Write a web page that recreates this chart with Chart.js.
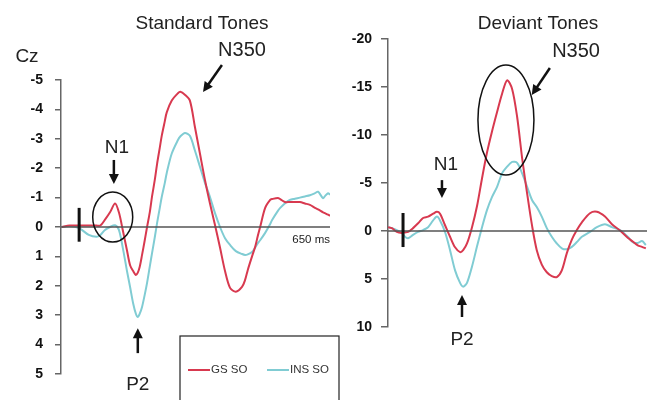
<!DOCTYPE html>
<html>
<head>
<meta charset="utf-8">
<script src="https://cdn.jsdelivr.net/npm/chart.js@4.4.1/dist/chart.umd.min.js"></script>
<style>
  html, body { margin: 0; padding: 0; background: #fff; }
  #wrap { position: relative; width: 647px; height: 400px; overflow: hidden; }
  canvas { position: absolute; top: 0; }
</style>
</head>
<body>
<div id="wrap">
  <canvas id="std" width="345" height="400" style="left:0"></canvas>
  <canvas id="dev" width="307" height="400" style="left:340px"></canvas>
</div>
<script>
// Standard tones (Cz), time in ms, amplitude in microvolts (negative up)
const stdTime = [-45, -25, 0, 25, 45, 55, 67, 80, 93, 103, 113, 124, 132, 140, 147, 152, 157, 163, 170, 176,
  183, 189, 196, 202, 209, 214, 222, 227, 240, 256, 262, 274, 287, 300, 313, 326, 339, 352, 365, 378,
  391, 406, 422, 430, 437, 448, 456, 463, 469, 482, 495, 500, 515, 521, 533, 546, 559, 572, 585, 598,
  611, 619, 632, 637, 645, 650];
const stdGS = [0, -0.05, -0.05, -0.05, -0.05, -0.05, -0.25, -0.5, -0.8, -0.5, 0.1, 0.8, 1.3, 1.5, 1.63,
  1.55, 1.35, 0.95, 0.45, 0.0, -0.5, -1.05, -1.6, -2.15, -2.7, -3.1, -3.6, -3.9, -4.3, -4.55,
  -4.6, -4.5, -4.3, -3.4, -2.5, -1.6, -0.8, -0.07, 0.7, 1.5, 2.07, 2.2, 2.04, 1.8, 1.46,
  1.0, 0.68, 0.3, 0, -0.65, -0.92, -0.95, -0.99, -0.95, -0.85, -0.85, -0.85, -0.85, -0.8, -0.75,
  -0.65, -0.6, -0.5, -0.47, -0.42, -0.38];
const stdINS = [0, -0.03, 0.04, 0.27, 0.33, 0.27, 0.1, 0.0, -0.06, 0.1, 0.7, 1.5, 2.04, 2.6, 2.95,
  3.06, 2.95, 2.72, 2.3, 1.9, 1.35, 0.88, 0.35, -0.14, -0.65, -1.02, -1.5, -1.84, -2.5, -2.96,
  -3.08, -3.2, -3.1, -2.6, -2.05, -1.5, -1.02, -0.47, 0, 0.38, 0.61, 0.82, 0.92, 0.95, 0.93,
  0.85, 0.7, 0.55, 0.45, 0.2, -0.1, -0.24, -0.55, -0.65, -0.8, -0.92, -0.96, -1.0, -1.04, -1.08,
  -1.15, -1.2, -0.98, -1.05, -1.15, -1.1];
const stdTicks = [-5, -4, -3, -2, -1, 0, 1, 2, 3, 4, 5];

// Deviant tones
const devTime = [-39, -29, -16, -3, 5, 13, 26, 39, 52, 65, 78, 88, 96, 109, 122, 135, 148, 156, 166, 179,
  192, 205, 218, 231, 244, 257, 270, 283, 296, 309, 322, 335, 347, 360, 373, 386, 399, 412, 425, 438,
  451, 464, 485, 503, 524, 542, 563, 583, 596, 609, 620, 630];
const devGS = [-0.4, -0.3, 0.1, 0.2, 0.15, 0.1, -0.3, -0.8, -1.35, -1.5, -1.8, -2.0, -1.8, -0.6, 0.6,
  1.7, 2.2, 2.0, 1.3, -0.4, -2.6, -5.5, -8.2, -10.4, -12.4, -14.3, -15.7, -14.8, -11.9, -7.6,
  -3.9, -0.5, 2.0, 3.5, 4.3, 4.7, 4.8, 4.1, 2.3, 0.9, -0.1, -0.9, -1.85, -2.0, -1.5,
  -0.7, -0.05, 0.7, 1.1, 1.5, 1.65, 1.8];
const devINS = [-0.4, -0.3, -0.1, 0.2, 0.6, 0.75, 0.4, 0.1, -0.1, -0.4, -1.1, -1.5, -1.1, 0.1, 2.0,
  4.1, 5.4, 5.8, 5.4, 3.7, 1.6, -0.4, -2.2, -3.55, -4.6, -6.0, -6.7, -7.2, -7.1, -6.0,
  -4.6, -3.2, -2.5, -1.5, -0.3, 0.6, 1.3, 1.8, 1.9, 1.65, 1.15, 0.6, 0.1, -0.4, -0.7,
  -0.4, -0.1, 0.6, 1.15, 1.25, 1.05, 1.45];
const devTicks = [-20, -15, -10, -5, 0, 5, 10];

const seriesNames = ['GS SO', 'INS SO'];
const seriesColors = ['#d8394f', '#80ccd3'];

Chart.defaults.font.family = "'Liberation Sans', Arial, sans-serif";

function pts(t, v) {
  return t.map((x, i) => ({ x: x, y: v[i] }));
}

function arrow(ctx, x1, y1, x2, y2) {
  const a = Math.atan2(y2 - y1, x2 - x1);
  const head = 10, half = 5;
  ctx.beginPath();
  ctx.moveTo(x1, y1);
  ctx.lineTo(x2 - Math.cos(a) * head * 0.7, y2 - Math.sin(a) * head * 0.7);
  ctx.stroke();
  ctx.beginPath();
  ctx.moveTo(x2, y2);
  ctx.lineTo(x2 - head * Math.cos(a) + half * Math.sin(a), y2 - head * Math.sin(a) - half * Math.cos(a));
  ctx.lineTo(x2 - head * Math.cos(a) - half * Math.sin(a), y2 - head * Math.sin(a) + half * Math.cos(a));
  ctx.closePath();
  ctx.fill();
}

// draws zero line, stimulus bar, arrows, ellipses, labels and the boxed legend
const notesPlugin = {
  id: 'notes',
  afterDraw(chart, args, o) {
    const ctx = chart.ctx;
    const xs = chart.scales.x, ys = chart.scales.y;
    const X = t => xs.getPixelForValue(t);
    const Y = v => ys.getPixelForValue(v);
    ctx.save();
    // zero line
    ctx.strokeStyle = '#555';
    ctx.lineWidth = 1.5;
    ctx.beginPath();
    ctx.moveTo(chart.chartArea.left, Y(0));
    ctx.lineTo(X(o.zeroEnd), Y(0));
    ctx.stroke();
    // stimulus onset bar
    ctx.strokeStyle = '#111';
    ctx.lineWidth = 3;
    ctx.beginPath();
    ctx.moveTo(X(0), Y(o.stim[0]));
    ctx.lineTo(X(0), Y(o.stim[1]));
    ctx.stroke();
    // ellipses
    ctx.lineWidth = 1.5;
    o.ellipses.forEach(e => {
      ctx.beginPath();
      ctx.ellipse(X(e.t), Y(e.v), e.rx, e.ry, 0, 0, Math.PI * 2);
      ctx.stroke();
    });
    // arrows
    ctx.fillStyle = '#111';
    ctx.lineWidth = 2.5;
    o.arrows.forEach(a => arrow(ctx, X(a[0]), Y(a[1]), X(a[2]), Y(a[3])));
    // labels in data units
    ctx.fillStyle = '#222';
    ctx.textBaseline = 'middle';
    o.labels.forEach(l => {
      ctx.font = (l.size || 19) + "px 'Liberation Sans', Arial, sans-serif";
      ctx.textAlign = l.align || 'center';
      ctx.fillText(l.text, X(l.t), Y(l.v));
    });
    // labels in canvas pixels
    o.texts.forEach(l => {
      ctx.font = (l.size || 19) + "px 'Liberation Sans', Arial, sans-serif";
      ctx.textAlign = l.align || 'center';
      ctx.fillText(l.text, l.x, l.y);
    });
    // legend box
    if (o.legend) {
      const b = o.legend;
      ctx.strokeStyle = '#222';
      ctx.lineWidth = 1.2;
      ctx.strokeRect(b.x, b.y, b.w, b.h);
      ctx.font = "11.5px 'Liberation Sans', Arial, sans-serif";
      ctx.textAlign = 'left';
      chart.data.datasets.forEach((ds, i) => {
        const lx = b.items[i];
        ctx.strokeStyle = ds.borderColor;
        ctx.lineWidth = 2;
        ctx.beginPath();
        ctx.moveTo(lx, b.rowY);
        ctx.lineTo(lx + 22, b.rowY);
        ctx.stroke();
        ctx.fillStyle = '#333';
        ctx.fillText(ds.label, lx + 23, b.rowY);
      });
    }
    ctx.restore();
  }
};

function makeChart(id, time, gs, ins, ticks, xMin, xMax, yMin, yMax, axisW, tickLen, tickPad, padding, notes) {
  return new Chart(document.getElementById(id), {
    type: 'line',
    data: {
      datasets: [
        { label: seriesNames[0], data: pts(time, gs), borderColor: seriesColors[0] },
        { label: seriesNames[1], data: pts(time, ins), borderColor: seriesColors[1] }
      ]
    },
    options: {
      responsive: false,
      animation: false,
      devicePixelRatio: 1,
      layout: { padding: padding },
      elements: {
        point: { radius: 0 },
        line: { borderWidth: 2, tension: 0.3, fill: false }
      },
      scales: {
        x: { type: 'linear', display: false, min: xMin, max: xMax },
        y: {
          reverse: true,
          min: yMin,
          max: yMax,
          afterFit: s => { s.width = axisW; },
          afterBuildTicks: s => { s.ticks = ticks.map(v => ({ value: v })); },
          ticks: {
            font: { size: 14, weight: 'bold' },
            color: '#111',
            padding: tickPad,
            callback: v => String(v)
          },
          grid: { drawOnChartArea: false, drawTicks: true, tickLength: tickLen, color: '#666', lineWidth: 1.5 },
          border: { display: true, color: '#666', width: 1.5 }
        }
      },
      plugins: {
        legend: { display: false },
        tooltip: { enabled: false },
        notes: notes
      }
    },
    plugins: [notesPlugin]
  });
}

makeChart('std', stdTime, stdGS, stdINS, stdTicks, -47, 650, -5, 5, 61, 6, 12,
  { top: 80, bottom: 26, left: 0, right: 15 },
  {
    zeroEnd: 650,
    stim: [-0.65, 0.5],
    ellipses: [{ t: 87, v: -0.34, rx: 20, ry: 25 }],
    arrows: [[90, -2.28, 90, -1.46], [152, 4.29, 152, 3.44], [370, -5.51, 321, -4.59]],
    labels: [
      { text: 'N1', t: 98, v: -2.69 },
      { text: 'P2', t: 152, v: 5.37 },
      { text: 'N350', t: 422, v: -6.02, size: 20 },
      { text: '650 ms', t: 650, v: 0.44, size: 11.5, align: 'right' }
    ],
    texts: [
      { text: 'Standard Tones', x: 202, y: 24 },
      { text: 'Cz', x: 27, y: 57 }
    ],
    legend: { x: 180, y: 336, w: 159, h: 70, rowY: 370, items: [188, 267] }
  });

makeChart('dev', devTime, devGS, devINS, devTicks, -39, 633, -20, 10, 48, 7, 9,
  { top: 39, bottom: 73, left: 0, right: 0 },
  {
    zeroEnd: 633,
    stim: [-1.875, 1.67],
    ellipses: [{ t: 267, v: -11.56, rx: 28, ry: 55 }],
    arrows: [[101, -5.3, 101, -3.44], [153, 8.96, 153, 6.67], [381, -16.98, 334, -14.17]],
    labels: [
      { text: 'N1', t: 111, v: -6.9 },
      { text: 'P2', t: 153, v: 11.35 },
      { text: 'N350', t: 449, v: -18.65, size: 20 }
    ],
    texts: [
      { text: 'Deviant Tones', x: 198, y: 24 }
    ],
    legend: null
  });
</script>
</body>
</html>
